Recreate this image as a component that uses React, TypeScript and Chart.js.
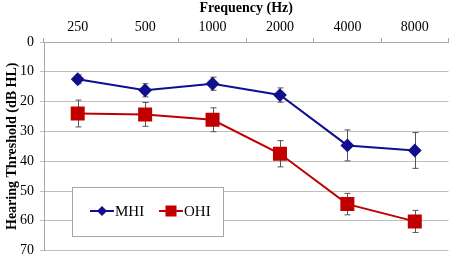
import React, { useEffect, useRef } from "react";
import { Chart, registerables } from "chart.js";

Chart.register(...registerables);

const categories = ["250", "500", "1000", "2000", "4000", "8000"];
const mhiValues = [12.5, 16.2, 14.0, 17.8, 34.7, 36.4];
const mhiErrors = [1.5, 2.2, 2.2, 2.4, 5.2, 6.0];
const ohiValues = [24.0, 24.3, 26.1, 37.5, 54.4, 60.2];
const ohiErrors = [4.5, 4.0, 4.0, 4.4, 3.6, 3.7];
const yTicks = [0, 10, 20, 30, 40, 50, 60, 70];

const MHI_COLOR = "#10108f";
const OHI_COLOR = "#c00000";
const FONT = "'Liberation Serif', 'Times New Roman', serif";

const errorBarPlugin = {
  id: "errorBars",
  beforeDatasetsDraw(chart: any) {
    const ctx = chart.ctx;
    const x = chart.scales.x;
    const y = chart.scales.y;
    const sets = [
      { v: mhiValues, e: mhiErrors },
      { v: ohiValues, e: ohiErrors },
    ];
    ctx.save();
    ctx.strokeStyle = "#555555";
    ctx.lineWidth = 1;
    sets.forEach((s) => {
      s.v.forEach((val, i) => {
        const px = Math.round(x.getPixelForValue(i)) + 0.5;
        const top = y.getPixelForValue(val - s.e[i]);
        const bot = y.getPixelForValue(val + s.e[i]);
        ctx.beginPath();
        ctx.moveTo(px, top);
        ctx.lineTo(px, bot);
        ctx.moveTo(px - 3, top);
        ctx.lineTo(px + 3, top);
        ctx.moveTo(px - 3, bot);
        ctx.lineTo(px + 3, bot);
        ctx.stroke();
      });
    });
    ctx.restore();
  },
};

const legendPlugin = {
  id: "boxLegend",
  afterDraw(chart: any) {
    const ctx = chart.ctx;
    const a = chart.chartArea;
    const bx = a.left + 28;
    const by = a.top + 145;
    const bw = 151;
    const bh = 49;
    ctx.save();
    ctx.fillStyle = "#ffffff";
    ctx.fillRect(bx, by, bw, bh);
    ctx.strokeStyle = "#a6a6a6";
    ctx.lineWidth = 1;
    ctx.strokeRect(bx + 0.5, by + 0.5, bw, bh);
    const cy = by + 24;
    const entries = [
      { label: "MHI", color: MHI_COLOR, style: "rectRot", x: bx + 18 },
      { label: "OHI", color: OHI_COLOR, style: "rect", x: bx + 87 },
    ];
    entries.forEach((en) => {
      ctx.strokeStyle = en.color;
      ctx.lineWidth = 2;
      ctx.beginPath();
      ctx.moveTo(en.x, cy);
      ctx.lineTo(en.x + 24, cy);
      ctx.stroke();
      ctx.fillStyle = en.color;
      if (en.style === "rect") {
        ctx.fillRect(en.x + 12 - 5.5, cy - 5.5, 11, 11);
      } else {
        ctx.beginPath();
        ctx.moveTo(en.x + 12, cy - 5);
        ctx.lineTo(en.x + 17, cy);
        ctx.lineTo(en.x + 12, cy + 5);
        ctx.lineTo(en.x + 7, cy);
        ctx.closePath();
        ctx.fill();
      }
      ctx.fillStyle = "#000000";
      ctx.font = `15px ${FONT}`;
      ctx.textBaseline = "middle";
      ctx.textAlign = "left";
      ctx.fillText(en.label, en.x + 25, cy + 1);
    });
    ctx.restore();
  },
};

export default function App() {
  const ref = useRef<HTMLCanvasElement>(null);
  useEffect(() => {
    document.body.style.margin = "0";
    const canvas = ref.current!;
    const chart = new Chart(canvas, {
      type: "line",
      data: {
        labels: categories,
        datasets: [
          {
            label: "MHI",
            data: mhiValues,
            borderColor: MHI_COLOR,
            backgroundColor: MHI_COLOR,
            borderWidth: 2,
            pointStyle: "rectRot",
            pointRadius: 5.5,
            pointHoverRadius: 5.5,
            tension: 0,
          },
          {
            label: "OHI",
            data: ohiValues,
            borderColor: OHI_COLOR,
            backgroundColor: OHI_COLOR,
            borderWidth: 2,
            pointStyle: "rect",
            pointRadius: 8.5,
            pointHoverRadius: 8.5,
            tension: 0,
          },
        ],
      },
      options: {
        responsive: false,
        animation: false,
        events: [],
        layout: { padding: { left: 0, right: 6, top: 0, bottom: 7 } },
        plugins: {
          legend: { display: false },
          tooltip: { enabled: false },
        },
        scales: {
          x: {
            type: "category",
            position: "top",
            offset: true,
            grid: {
              display: true,
              offset: true,
              drawOnChartArea: false,
              drawTicks: true,
              tickLength: 4,
              color: "#a6a6a6",
            },
            border: { display: true, color: "#a6a6a6" },
            ticks: {
              color: "#000000",
              font: { family: FONT, size: 14 },
              padding: 2,
              maxRotation: 0,
            },
            title: {
              display: true,
              text: "Frequency (Hz)",
              color: "#000000",
              font: { family: FONT, size: 14, weight: "bold" },
              padding: { top: 0, bottom: 1 },
            },
            afterFit: (s: any) => {
              s.height = 42;
            },
          },
          y: {
            reverse: true,
            min: 0,
            max: 70,
            afterBuildTicks: (s: any) => {
              s.ticks = yTicks.map((v) => ({ value: v }));
            },
            grid: {
              color: "#bfbfbf",
              tickLength: 4,
            },
            border: { display: true, color: "#a6a6a6" },
            ticks: {
              color: "#000000",
              font: { family: FONT, size: 14 },
              padding: 6,
            },
            title: {
              display: true,
              text: "Hearing Threshold (dB HL)",
              color: "#000000",
              font: { family: FONT, size: 14, weight: "bold" },
              padding: { top: 4, bottom: 0 },
            },
            afterFit: (s: any) => {
              s.width = 44;
            },
          },
        },
      },
      plugins: [errorBarPlugin, legendPlugin],
    });
    return () => chart.destroy();
  }, []);
  return <canvas ref={ref} width={459} height={265} />;
}
